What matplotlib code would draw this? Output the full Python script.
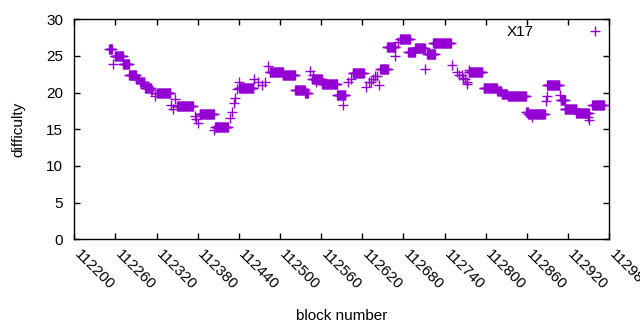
"""Difficulty per block number, gnuplot-like scatter of '+' markers."""
import numpy as np
import matplotlib
matplotlib.use('Agg')
import matplotlib.pyplot as plt
from matplotlib.transforms import ScaledTranslation

plt.rcParams['font.family'] = ['Liberation Sans', 'DejaVu Sans']

# runs of blocks that share one difficulty level (first block, last block, level)
seg_start = [112251, 112259, 112271, 112280, 112290, 112296, 112303, 112312,
             112321, 112350, 112383, 112405, 112440, 112485, 112504, 112522,
             112537, 112547, 112561, 112583, 112606, 112646, 112656, 112675,
             112687, 112697, 112714, 112723, 112775, 112797, 112817, 112823,
             112832, 112859, 112862, 112889, 112909, 112915, 112932, 112955]
seg_end = [112255, 112271, 112280, 112290, 112294, 112302, 112312, 112313,
           112340, 112373, 112404, 112424, 112461, 112504, 112522, 112536,
           112541, 112561, 112583, 112595, 112622, 112657, 112668, 112689,
           112697, 112711, 112726, 112749, 112795, 112816, 112822, 112831,
           112858, 112861, 112886, 112907, 112915, 112932, 112950, 112972]
seg_value = [26.0, 25.0, 23.9, 22.4, 21.9, 21.4, 20.6, 20.3,
             19.9, 18.2, 17.1, 15.3, 20.6, 22.8, 22.4, 20.4,
             20.0, 21.9, 21.2, 19.7, 22.7, 23.2, 26.2, 27.3,
             25.6, 26.1, 25.2, 26.8, 22.8, 20.6, 20.2, 19.8,
             19.6, 17.4, 17.1, 21.0, 19.0, 17.8, 17.2, 18.3]

# isolated blocks off the runs
single_block = [112257, 112318, 112341, 112344, 112347, 112376, 112377, 112380,
                112404, 112427, 112430, 112433, 112435, 112437, 112440, 112462,
                112468, 112474, 112478, 112482, 112544, 112548, 112552, 112592,
                112599, 112603, 112626, 112630, 112632, 112635, 112639, 112642,
                112645, 112668, 112672, 112712, 112751, 112758, 112761, 112765,
                112767, 112770, 112772, 112773, 112776, 112867, 112888, 112889,
                112908, 112949, 112951]
single_value = [23.9, 19.6, 18.3, 17.7, 19.1, 16.8, 16.4, 15.9,
                14.9, 16.6, 17.4, 18.6, 19.2, 20.5, 21.4, 21.8,
                21.4, 21.1, 21.5, 23.6, 22.9, 22.4, 21.4, 18.3,
                21.5, 21.9, 20.8, 21.4, 21.5, 21.9, 22.3, 22.3,
                21.1, 25.0, 26.9, 23.2, 23.7, 22.8, 22.4, 22.4,
                22.0, 21.9, 21.5, 21.2, 23.1, 16.7, 18.8, 19.5,
                19.7, 16.7, 16.3]

blocks = np.concatenate([np.arange(s, e + 1) for s, e in zip(seg_start, seg_end)]
                        + [np.array(single_block)])
diff = np.concatenate([np.full(e - s + 1, v) for s, e, v in zip(seg_start, seg_end, seg_value)]
                      + [np.array(single_value)])

fig = plt.figure(figsize=(6.4, 3.3), dpi=100)
ax = fig.add_axes([0.116, 0.275, 0.836, 0.6665])

ax.plot(blocks, diff, linestyle='none', marker='+', color='#9400d3',
        markersize=6.5, markeredgewidth=1.0, label='X17')

ax.set_xlim(112200, 112980)
ax.set_ylim(0, 30)
ax.set_xticks(np.arange(112200, 112981, 60))
ax.set_yticks(np.arange(0, 31, 5))
ax.tick_params(direction='in', length=4, width=1, top=True, right=True,
               labelsize=11, colors='black')
ax.tick_params(axis='y', pad=8)
ax.tick_params(axis='x', pad=6)
shift = ScaledTranslation(0.07, 0, fig.dpi_scale_trans)
for lab in ax.get_xticklabels():
    lab.set_rotation(-45)
    lab.set_ha('left')
    lab.set_va('top')
    lab.set_rotation_mode('anchor')
    lab.set_transform(lab.get_transform() + shift)
for s in ax.spines.values():
    s.set_linewidth(1)

ax.set_xlabel('block number', fontsize=11, labelpad=12)
ax.set_ylabel('difficulty', fontsize=11, labelpad=15)

ax.legend(loc='upper right', frameon=False, markerfirst=False, fontsize=11,
          handlelength=4, handletextpad=2, borderpad=0.4, borderaxespad=0,
          bbox_to_anchor=(1.042, 1.0))

plt.savefig('out.png', dpi=100)
plt.close()
